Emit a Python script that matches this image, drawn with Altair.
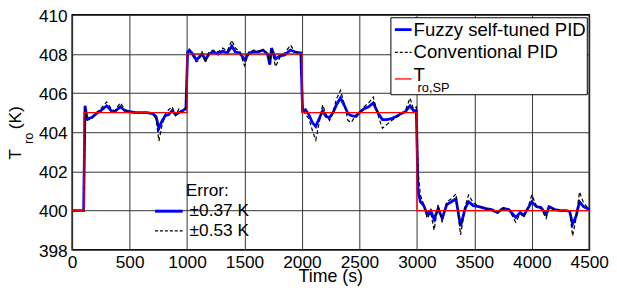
import altair as alt
import pandas as pd

# ---- data ----
time_s = [0, 95, 100, 112, 130, 170, 210, 250, 300, 340, 370, 420, 460, 500, 550, 600, 650, 700,
          730, 755, 780, 810, 840, 870, 900, 930, 960, 990, 1005, 1020, 1050, 1080, 1100, 1130,
          1160, 1190, 1230, 1270, 1310, 1350, 1390, 1420, 1460, 1500, 1540, 1580, 1620, 1660,
          1700, 1720, 1735, 1770, 1810, 1850, 1900, 1940, 1990, 2005, 2030, 2060, 2090, 2120,
          2150, 2180, 2210, 2240, 2270, 2300, 2335, 2370, 2400, 2430, 2470, 2500, 2540, 2580,
          2620, 2660, 2700, 2740, 2780, 2820, 2860, 2900, 2940, 2970, 2995, 3010, 3030, 3060,
          3090, 3120, 3150, 3185, 3220, 3260, 3300, 3340, 3380, 3420, 3450, 3490, 3540, 3600,
          3650, 3700, 3750, 3800, 3860, 3900, 3930, 3970, 4000, 4040, 4080, 4125, 4150, 4200,
          4250, 4300, 4330, 4355, 4385, 4415, 4450, 4500]
fuzzy_pid = [400, 400, 400, 405.35, 404.7, 404.75, 404.95, 405.1, 405.35, 405.1, 405.05, 405.3,
             405.1, 405.05, 405.0, 405.0, 405.0, 404.95, 404.8, 404.2, 404.55, 404.85, 404.9,
             405.1, 404.9, 405.0, 405.1, 405.2, 408.1, 408.2, 408.0, 407.7, 407.8, 408.0, 407.7,
             408.0, 408.1, 408.0, 408.15, 408.05, 408.4, 408.1, 408.05, 407.7, 408.05, 408.1,
             408.1, 408.2, 408.0, 407.45, 408.3, 407.75, 407.9, 407.95, 408.2, 408.1, 408.05,
             405.1, 405.15, 404.9, 404.5, 404.3, 404.7, 405.1, 404.8, 404.75, 405.0, 405.4,
             405.75, 405.35, 404.95, 404.85, 404.8, 405.0, 405.2, 405.3, 405.5, 405.0, 404.65,
             404.65, 404.7, 404.8, 404.95, 405.05, 405.35, 405.1, 405.1, 401.0, 400.45, 400.25,
             399.8, 400.0, 399.55, 400.1, 399.6, 400.3, 400.45, 400.6, 399.2, 400.1, 400.45,
             400.25, 400.2, 400.1, 400.05, 399.9, 400.1, 400.05, 399.65, 399.9, 399.75, 400.15,
             400.45, 400.2, 400.15, 399.8, 400.2, 400.05, 400.0, 400.0, 399.95, 399.3, 399.7,
             400.45, 400.2, 400.05]
conventional_pid = [400, 400, 400, 405.3, 404.6, 404.7, 405.0, 405.2, 405.55, 405.2, 405.1, 405.5,
                    405.15, 405.0, 405.0, 404.95, 405.0, 404.95, 404.7, 403.55, 404.3, 404.9,
                    405.15, 405.3, 404.85, 405.2, 405.0, 405.3, 408.0, 408.15, 407.9, 407.6,
                    407.65, 408.1, 407.55, 408.1, 408.2, 408.1, 408.3, 408.15, 408.7, 408.3,
                    408.1, 407.4, 408.1, 408.2, 408.15, 408.2, 408.05, 407.5, 408.3, 407.35,
                    407.85, 408.05, 408.45, 408.1, 408.0, 405.3, 404.9, 404.7, 404.1, 403.6,
                    404.5, 405.4, 404.9, 404.6, 405.0, 405.7, 406.15, 405.4, 404.6, 404.5,
                    404.9, 405.0, 405.3, 405.5, 405.8, 404.9, 404.2, 404.4, 404.6, 404.75,
                    404.9, 405.1, 405.75, 405.2, 405.3, 402.0, 400.8, 400.3, 399.6, 399.9,
                    399.0, 400.3, 399.4, 400.45, 400.6, 400.85, 398.75, 400.2, 400.8, 400.4,
                    400.2, 400.1, 400.0, 399.85, 400.15, 400.05, 399.4, 399.85, 399.65, 400.2,
                    400.8, 400.25, 400.1, 399.6, 400.15, 400.05, 400.0, 400.0, 399.95, 398.7,
                    399.6, 400.95, 400.4, 400.05]
sp_time = [0, 103, 103, 1000, 1000, 2000, 2000, 3000, 3000, 4500]
sp_value = [400, 400, 405, 405, 408, 408, 405, 405, 400, 400]
x_ticks = [0, 500, 1000, 1500, 2000, 2500, 3000, 3500, 4000, 4500]
y_ticks = [398, 400, 402, 404, 406, 408, 410]
legend_labels = ["Fuzzy self-tuned PID", "Conventional PID", "T"]
error_labels = ["Error:", "\u00b10.37 K", "\u00b10.53 K"]

FONT = "Liberation Sans"
W, H = 524, 238

df = pd.DataFrame({"t": time_s, "fuzzy": fuzzy_pid, "conv": conventional_pid})
sp = pd.DataFrame({"t": sp_time, "v": sp_value, "i": list(range(len(sp_time)))})
one = pd.DataFrame({"a": [0]})

xs = alt.Scale(domain=[0, 4500], nice=False)
ys = alt.Scale(domain=[398, 410], nice=False)
xax = alt.Axis(values=x_ticks, title=None, ticks=False, tickSize=0, domain=False, format="d",
               labelPadding=4, gridColor="#333333", gridWidth=1, labelFontSize=17.5,
               labelFont=FONT, labelColor="black", labelFlush=False, labelOverlap=False)
yax = alt.Axis(values=y_ticks, title=None, ticks=False, tickSize=0, domain=False, format="d",
               labelPadding=5, gridColor="#333333", gridWidth=1, labelFontSize=17.5,
               labelFont=FONT, labelColor="black", labelOverlap=False, labelOffset=1.5,
               labelFlush=False)

base = alt.Chart(df)
fuzzy_line = base.mark_line(color="#0000ff", strokeWidth=2.8).encode(
    x=alt.X("t:Q", scale=xs, axis=xax), y=alt.Y("fuzzy:Q", scale=ys, axis=yax))
conv_line = base.mark_line(color="black", strokeWidth=1.2, strokeDash=[4, 2.5]).encode(
    x=alt.X("t:Q", scale=xs, axis=xax), y=alt.Y("conv:Q", scale=ys, axis=yax))
sp_line = alt.Chart(sp).mark_line(color="#ff0000", strokeWidth=1.3).encode(
    x=alt.X("t:Q", scale=xs, axis=xax), y=alt.Y("v:Q", scale=ys, axis=yax), order="i:Q")


def txt(s, x, y, size=18, align="left", baseline="alphabetic", angle=0):
    return alt.Chart(one).mark_text(text=s, font=FONT, fontSize=size, align=align,
                                    baseline=baseline, angle=angle, color="black").encode(
        x=alt.value(x), y=alt.value(y))


def seg(x1, x2, y, color, width, dash=None):
    kw = dict(color=color, strokeWidth=width)
    if dash:
        kw["strokeDash"] = dash
    return alt.Chart(one).mark_rule(**kw).encode(x=alt.value(x1), x2=alt.value(x2), y=alt.value(y))


legend_box = alt.Chart(one).mark_rect(fill="white", stroke="black", strokeWidth=1).encode(
    x=alt.value(323), x2=alt.value(522), y=alt.value(3), y2=alt.value(81))

layers = [
    fuzzy_line, conv_line, sp_line,
    legend_box,
    seg(327, 344, 15, "#0000ff", 2.8),
    txt(legend_labels[0], 346, 15, 18.8, baseline="middle"),
    seg(327, 344, 38, "black", 1.2, [3, 2]),
    txt(legend_labels[1], 346, 38, 18.8, baseline="middle"),
    seg(327, 344, 65, "#ff0000", 1.3),
    txt(legend_labels[2], 346, 67, 18.8),
    txt("ro,SP", 350, 78, 13),
    # error annotation
    txt(error_labels[0], 115, 184, 17.5),
    seg(84, 112, 199, "#0000ff", 3),
    txt(error_labels[1], 119, 199, 17.5, baseline="middle"),
    seg(84, 112, 219, "black", 1.2, [3, 2]),
    txt(error_labels[2], 119, 219, 17.5, baseline="middle"),
    # axis titles
    txt("Time (s)", W / 2, 271, 18, align="center"),
    txt("T", -52, 147, 17.5, angle=270),
    txt("ro", -40, 131, 13, angle=270),
    txt("(K)", -52, 116, 17.5, angle=270),
]

chart = alt.layer(*layers).properties(
    width=W, height=H,
    autosize=alt.AutoSizeParams(type="none"),
    padding={"left": 65, "top": 5, "right": 20, "bottom": 41},
).configure_view(stroke="black", strokeWidth=1.5)

chart.save("out.html", embed_options={"renderer": "svg", "actions": False})
